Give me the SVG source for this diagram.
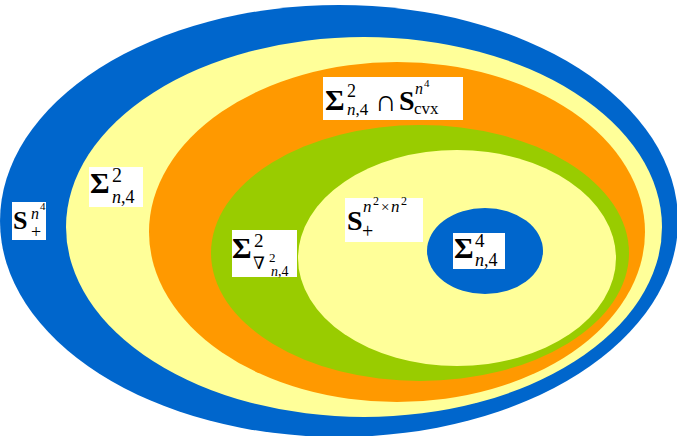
<svg xmlns="http://www.w3.org/2000/svg" width="677" height="436" viewBox="0 0 677 436">
<style>
.lb{fill:#ffffff}
.t{font-family:'Liberation Serif','DejaVu Serif',serif;fill:#000000}
.b{font-weight:bold}
.i{font-style:italic}
.blue{fill:#0066CC}
.yel{fill:#FFFF99}
.org{fill:#FF9900}
.grn{fill:#99CC00}
</style>
<rect width="677" height="436" fill="#ffffff"/>
<g id="S_plus_n4">
<ellipse class="blue" cx="339" cy="221" rx="339" ry="216"/>
</g>
<g id="Sigma2_n4">
<ellipse class="yel" cx="364" cy="227" rx="298" ry="190"/>
</g>
<g id="Sigma2_cap_cvx">
<ellipse class="org" cx="397" cy="232" rx="248" ry="170"/>
</g>
<g id="Sigma2_nabla">
<ellipse class="grn" cx="420" cy="253" rx="209" ry="128"/>
</g>
<g id="S_plus_n2n2">
<ellipse class="yel" cx="457" cy="258" rx="159" ry="108"/>
</g>
<g id="Sigma4_n4">
<ellipse class="blue" cx="485" cy="251" rx="58" ry="43"/>
</g>
<g id="connectors"></g>
<g id="labels">
<g id="label1">
<rect class="lb" x="12" y="202" width="34" height="38"/>
<text class="t" font-family="'Liberation Serif', serif"><tspan class="b" x="13" y="229" font-size="26">S</tspan><tspan class="i" x="31" y="219" font-size="16">n</tspan><tspan x="40" y="210" font-size="11">4</tspan><tspan x="31" y="238" font-size="18">+</tspan></text>
</g>
<g id="label2">
<rect class="lb" x="89" y="167" width="54" height="40"/>
<text class="t" font-family="'Liberation Serif', serif"><tspan class="b" x="90" y="193" font-size="30">Σ</tspan><tspan x="112" y="182" font-size="20">2</tspan><tspan class="i" x="112" y="203" font-size="18">n</tspan><tspan font-size="18">,4</tspan></text>
</g>
<g id="label3">
<rect class="lb" x="323" y="77" width="140" height="43"/>
<text class="t" font-family="'Liberation Serif', serif"><tspan class="b" x="325" y="110" font-size="30">Σ</tspan><tspan x="347" y="97" font-size="18">2</tspan><tspan class="i" x="347" y="115" font-size="17">n</tspan><tspan font-size="17">,4</tspan><tspan x="375" y="111" font-size="30">∩</tspan></text>
<text class="t" font-family="'Liberation Serif', serif"><tspan class="b" x="399" y="110" font-size="28">S</tspan><tspan class="i" x="415" y="94" font-size="16">n</tspan><tspan x="424" y="87" font-size="11">4</tspan><tspan x="414" y="114" font-size="17">cvx</tspan></text>
</g>
<g id="label4">
<rect class="lb" x="232" y="230" width="65" height="47"/>
<text class="t" font-family="'Liberation Serif', serif"><tspan class="b" x="232" y="258" font-size="30">Σ</tspan><tspan x="254" y="247" font-size="19">2</tspan><tspan x="253" y="269" font-size="17">∇</tspan><tspan x="269" y="262" font-size="13">2</tspan><tspan class="i" x="271" y="276" font-size="14">n</tspan><tspan font-size="14">,4</tspan></text>
</g>
<g id="label5">
<rect class="lb" x="345" y="198" width="78" height="44"/>
<text class="t" font-family="'Liberation Serif', serif"><tspan class="b" x="347" y="230" font-size="28">S</tspan><tspan class="i" x="363" y="212" font-size="17">n</tspan><tspan x="373" y="205" font-size="12">2</tspan><tspan x="381" y="212" font-size="15">×</tspan><tspan class="i" x="391" y="212" font-size="17">n</tspan><tspan x="401" y="205" font-size="12">2</tspan><tspan x="362" y="238" font-size="20">+</tspan></text>
</g>
<g id="label6">
<rect class="lb" x="453" y="233" width="52" height="36"/>
<text class="t" font-family="'Liberation Serif', serif"><tspan class="b" x="454" y="258" font-size="30">Σ</tspan><tspan x="475" y="247" font-size="19">4</tspan><tspan class="i" x="475" y="266" font-size="18">n</tspan><tspan font-size="18">,4</tspan></text>
</g>
</g>
</svg>
